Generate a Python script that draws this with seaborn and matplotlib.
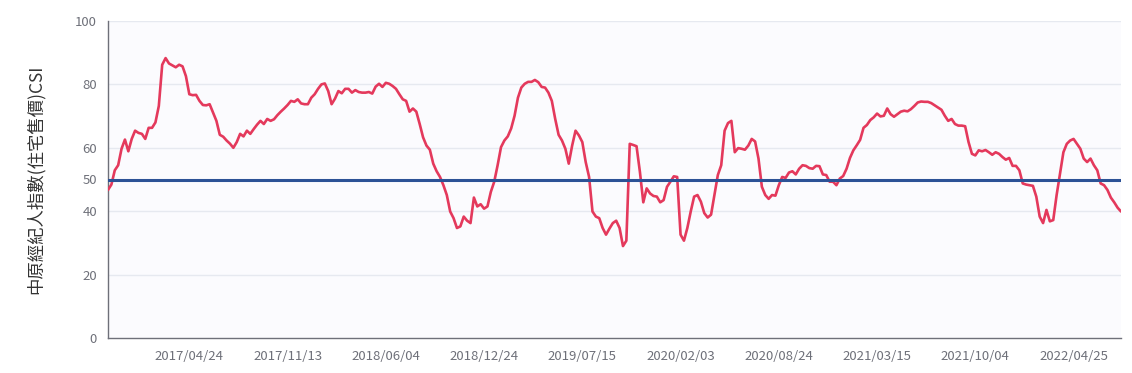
import numpy as np
import pandas as pd
import matplotlib
matplotlib.use("Agg")
import matplotlib.pyplot as plt
import matplotlib.dates as mdates
import seaborn as sns

# ---- data ----
start_date = "2016-11-07"
csi_values = [
    46.7, 48.4, 52.9, 54.5, 59.7, 62.6, 58.9, 62.8, 65.4, 64.7,
    64.4, 62.8, 66.3, 66.3, 68.0, 73.2, 86.2, 88.3, 86.6, 86.0,
    85.4, 86.2, 85.7, 82.6, 76.9, 76.6, 76.7, 74.8, 73.5, 73.4,
    73.75, 71.1, 68.5, 64.1, 63.5, 62.3, 61.3, 60.0, 61.8, 64.4,
    63.6, 65.4, 64.4, 65.9, 67.3, 68.5, 67.5, 69.1, 68.5, 69.0,
    70.3, 71.4, 72.4, 73.5, 74.8, 74.5, 75.3, 74.0, 73.75, 73.75,
    75.8, 76.9, 78.6, 80.0, 80.3, 77.9, 73.75, 75.5, 77.9, 77.2,
    78.6, 78.6, 77.4, 78.2, 77.6, 77.4, 77.4, 77.6, 77.1, 79.3,
    80.2, 79.2, 80.5, 80.2, 79.5, 78.6, 76.9, 75.3, 74.8, 71.4,
    72.4, 71.4, 67.5, 63.3, 60.7, 59.4, 55.0, 52.6, 50.8, 48.2,
    45.1, 39.9, 37.8, 34.7, 35.2, 38.3, 37.0, 36.25, 44.3, 41.5,
    42.2, 40.8, 41.5, 46.1, 49.3, 54.5, 60.2, 62.3, 63.6, 66.1,
    70.1, 75.8, 79.0, 80.2, 80.8, 80.8, 81.4, 80.7, 79.2, 79.0,
    77.4, 74.8, 69.1, 64.1, 62.3, 59.7, 55.0, 60.7, 65.4, 63.9,
    61.8, 55.5, 50.8, 39.9, 38.3, 37.8, 34.7, 32.6, 34.5, 36.25,
    37.0, 34.7, 29.0, 30.7, 61.25, 60.9, 60.5, 52.4, 42.8, 47.2,
    45.6, 44.8, 44.6, 42.8, 43.5, 47.7, 49.3, 51.0, 50.8, 32.6,
    30.7, 34.7, 39.9, 44.6, 45.1, 43.0, 39.4, 38.0, 38.9, 45.1,
    51.4, 54.5, 65.4, 67.8, 68.5, 58.6, 59.9, 59.7, 59.4, 60.7,
    62.8, 62.0, 56.6, 47.7, 45.1, 43.9, 45.1, 44.9, 48.2, 50.8,
    50.5, 52.2, 52.6, 51.6, 53.4, 54.5, 54.3, 53.6, 53.4, 54.3,
    54.2, 51.6, 51.4, 49.3, 49.3, 48.2, 50.3, 51.1, 53.4, 56.8,
    59.2, 60.8, 62.5, 66.3, 67.2, 68.75, 69.6, 70.8, 69.9, 70.1,
    72.4, 70.6, 69.8, 70.6, 71.4, 71.7, 71.5, 72.2, 73.2, 74.3,
    74.6, 74.5, 74.5, 74.1, 73.4, 72.7, 72.0, 70.1, 68.5, 69.1,
    67.5, 67.0, 67.0, 66.8, 61.8, 58.1, 57.6, 59.2, 58.9, 59.3,
    58.6, 57.8, 58.6, 58.1, 57.1, 56.25, 56.8, 54.3, 54.3, 52.9,
    48.75, 48.4, 48.2, 48.0, 44.6, 38.3, 36.25, 40.4, 36.8, 37.2,
    45.1, 51.9, 58.6, 61.25, 62.3, 62.8, 61.25, 59.7, 56.6, 55.5,
    56.6, 54.5, 52.9, 48.75, 48.2, 46.7, 44.3, 42.8, 41.1, 39.9,
]
reference_level = 50
x_tick_labels = ["2017/04/24", "2017/11/13", "2018/06/04", "2018/12/24",
                 "2019/07/15", "2020/02/03", "2020/08/24", "2021/03/15",
                 "2021/10/04", "2022/04/25"]
y_ticks = [0, 20, 40, 50, 60, 80, 100]
y_label = "中原經紀人指數(住宅售價)CSI"

dates = pd.date_range(start_date, periods=len(csi_values), freq="7D")
df = pd.DataFrame({"date": dates, "csi": csi_values})

# ---- style ----
sns.set_style("white")
plt.rcParams["font.family"] = ["Noto Sans CJK TC", "DejaVu Sans"]

bg = "#fbfbfe"
fig = plt.figure(figsize=(11.32, 3.73), dpi=100, facecolor="white")
ax = fig.add_axes([108 / 1132, 35 / 373, 1013 / 1132, 317 / 373])
ax.set_facecolor(bg)

for yv in [20, 40, 60, 80, 100]:
    ax.axhline(yv, color="#e6e9f0", lw=1, zorder=0)

sns.lineplot(data=df, x="date", y="csi", ax=ax, color="#e4395c", lw=1.9, zorder=3)
ax.axhline(reference_level, color="#2c5296", lw=2.2, zorder=4)

ax.set_xlim(dates[0], dates[-1])
ax.set_ylim(0, 100)
ax.set_yticks(y_ticks)
ax.tick_params(axis="y", length=0, pad=8, labelsize=9.5, labelcolor="#6e7079")

tick_dates = pd.to_datetime(x_tick_labels, format="%Y/%m/%d")
ax.set_xticks(list(tick_dates) + [dates[-1]])
ax.set_xticklabels(x_tick_labels + [""])
ax.tick_params(axis="x", length=5, width=1, color="#6e7079", pad=4,
               labelsize=9.5, labelcolor="#6e7079", direction="out")

for side in ["top", "right"]:
    ax.spines[side].set_visible(False)
ax.spines["left"].set_color("#6e7079")
ax.spines["bottom"].set_color("#6e7079")
ax.spines["left"].set_linewidth(1)
ax.spines["bottom"].set_linewidth(1)

ax.set_xlabel("")
ax.set_ylabel(y_label, fontsize=12.5, color="#333333", labelpad=22)

fig.savefig("out.png", dpi=100, facecolor="white")
